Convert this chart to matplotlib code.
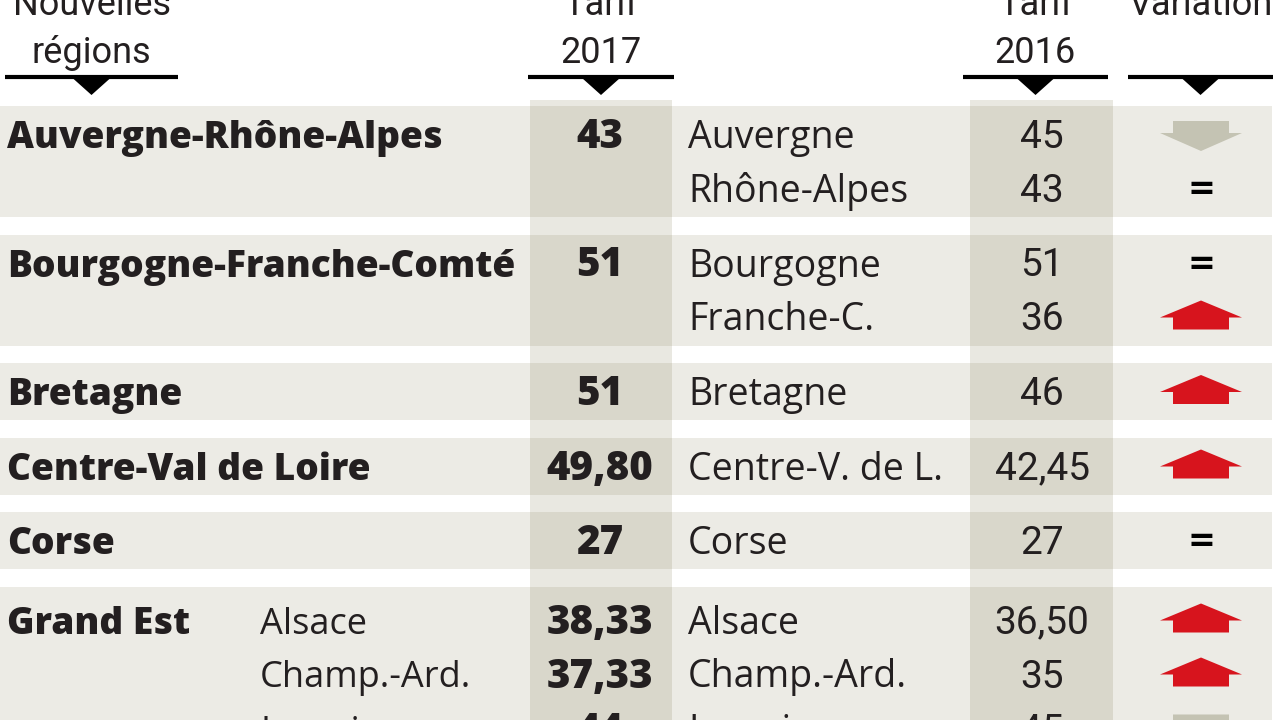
import numpy as np
import matplotlib
matplotlib.use("Agg")
import matplotlib.pyplot as plt
from matplotlib.patches import Rectangle, Polygon

# ---- data ----
new_regions = ["Auvergne-Rhône-Alpes", "Bourgogne-Franche-Comté", "Bretagne",
               "Centre-Val de Loire", "Corse", "Grand Est"]
group_size = [2, 2, 1, 1, 1, 3]
sub_regions = ["", "", "", "", "", "", "", "Alsace", "Champ.-Ard.", "Lorraine"]
tarif_2017 = ["43", "", "51", "", "51", "49,80", "27", "38,33", "37,33", "44"]
old_regions = ["Auvergne", "Rhône-Alpes", "Bourgogne", "Franche-C.", "Bretagne",
               "Centre-V. de L.", "Corse", "Alsace", "Champ.-Ard.", "Lorraine"]
tarif_2016 = ["45", "43", "51", "36", "46", "42,45", "27", "36,50", "35", "45"]
variation = ["down", "eq", "eq", "up", "up", "up", "eq", "up", "up", "down"]

headers = [("Nouvelles\nrégions", 5, 178), ("Tarif\n2017", 528, 674),
           ("Tarif\n2016", 963, 1108), ("Variation\n", 1128, 1273)]

# ---- style ----
ROW_BG = "#ecebe5"
COL_BG = "#d9d7cb"
GAP_COL = "#e9e8e1"
TXT = "#231f20"
RED = "#d7141d"
GREY = "#c4c3b3"
BOLD = "Open Sans"
REG = "Open Sans"
NUM = "Roboto"

fig = plt.figure(figsize=(12.8, 7.2), dpi=100)
ax = fig.add_axes([0, 0, 1, 1])
ax.set_xlim(0, 1280)
ax.set_ylim(720, 0)
ax.axis("off")

# header
for label, x0, x1 in headers:
    xc = (x0 + x1) / 2
    l1, l2 = label.split("\n")
    ax.text(xc, 15, l1, ha="center", va="baseline", fontsize=26, color=TXT, family=NUM)
    ax.text(xc, 63, l2, ha="center", va="baseline", fontsize=26, color=TXT, family=NUM)
    ax.plot([x0, x1], [77, 77], color="black", lw=3, solid_capstyle="butt")
    ax.add_patch(Polygon([[xc - 19, 78], [xc + 19, 78], [xc, 95]], closed=True,
                         color="black", lw=0))

# column bands in gaps
ax.add_patch(Rectangle((530, 100), 142, 640, color=GAP_COL, lw=0, zorder=0))
ax.add_patch(Rectangle((970, 100), 143, 640, color=GAP_COL, lw=0, zorder=0))

pad_bot, step, gap = 27, 54, 17.5
top = 106
line = 0
for name, n in zip(new_regions, group_size):
    pad_top = 30 if n < 3 else 35
    h = pad_top + pad_bot + step * (n - 1)
    ax.add_patch(Rectangle((0, top), 1272, h, color=ROW_BG, lw=0, zorder=1))
    ax.add_patch(Rectangle((530, top), 142, h, color=COL_BG, lw=0, zorder=1))
    ax.add_patch(Rectangle((970, top), 143, h, color=COL_BG, lw=0, zorder=1))
    yc0 = top + pad_top
    ax.text(7, yc0 + 12, name, ha="left", va="baseline", fontsize=26.7,
            fontweight="heavy", color=TXT, family=BOLD, zorder=3)
    for k in range(n):
        i = line + k
        yc = yc0 + step * k
        yb = yc + 12
        if sub_regions[i]:
            ax.text(260, yb, sub_regions[i], ha="left", va="baseline", fontsize=26,
                    color=TXT, family=REG, zorder=3)
        if tarif_2017[i]:
            ax.text(600, yb, tarif_2017[i], ha="center", va="baseline", fontsize=29,
                    fontweight="heavy", color=TXT, family=BOLD, zorder=3)
        ax.text(688, yb, old_regions[i], ha="left", va="baseline", fontsize=27,
                color=TXT, family=REG, zorder=3)
        ax.text(1042, yb, tarif_2016[i], ha="center", va="baseline", fontsize=28,
                color=TXT, family=NUM, zorder=3)
        xc = 1201
        if variation[i] == "up":
            pts = [[xc, yc - 18], [xc + 41, yc - 1], [xc + 28, yc - 1], [xc + 28, yc + 11],
                   [xc - 28, yc + 11], [xc - 28, yc - 1], [xc - 41, yc - 1]]
            ax.add_patch(Polygon(pts, closed=True, color=RED, lw=0, zorder=3))
        elif variation[i] == "down":
            pts = [[xc, yc + 15], [xc + 41, yc - 3], [xc + 28, yc - 3], [xc + 28, yc - 15],
                   [xc - 28, yc - 15], [xc - 28, yc - 3], [xc - 41, yc - 3]]
            ax.add_patch(Polygon(pts, closed=True, color=GREY, lw=0, zorder=3))
        else:
            ax.text(xc, yc, "=", ha="center", va="center", fontsize=24,
                    fontweight="bold", color="black", family="DejaVu Sans", zorder=3)
    line += n
    top += h + gap

fig.savefig("out.png", dpi=100, facecolor="white")
